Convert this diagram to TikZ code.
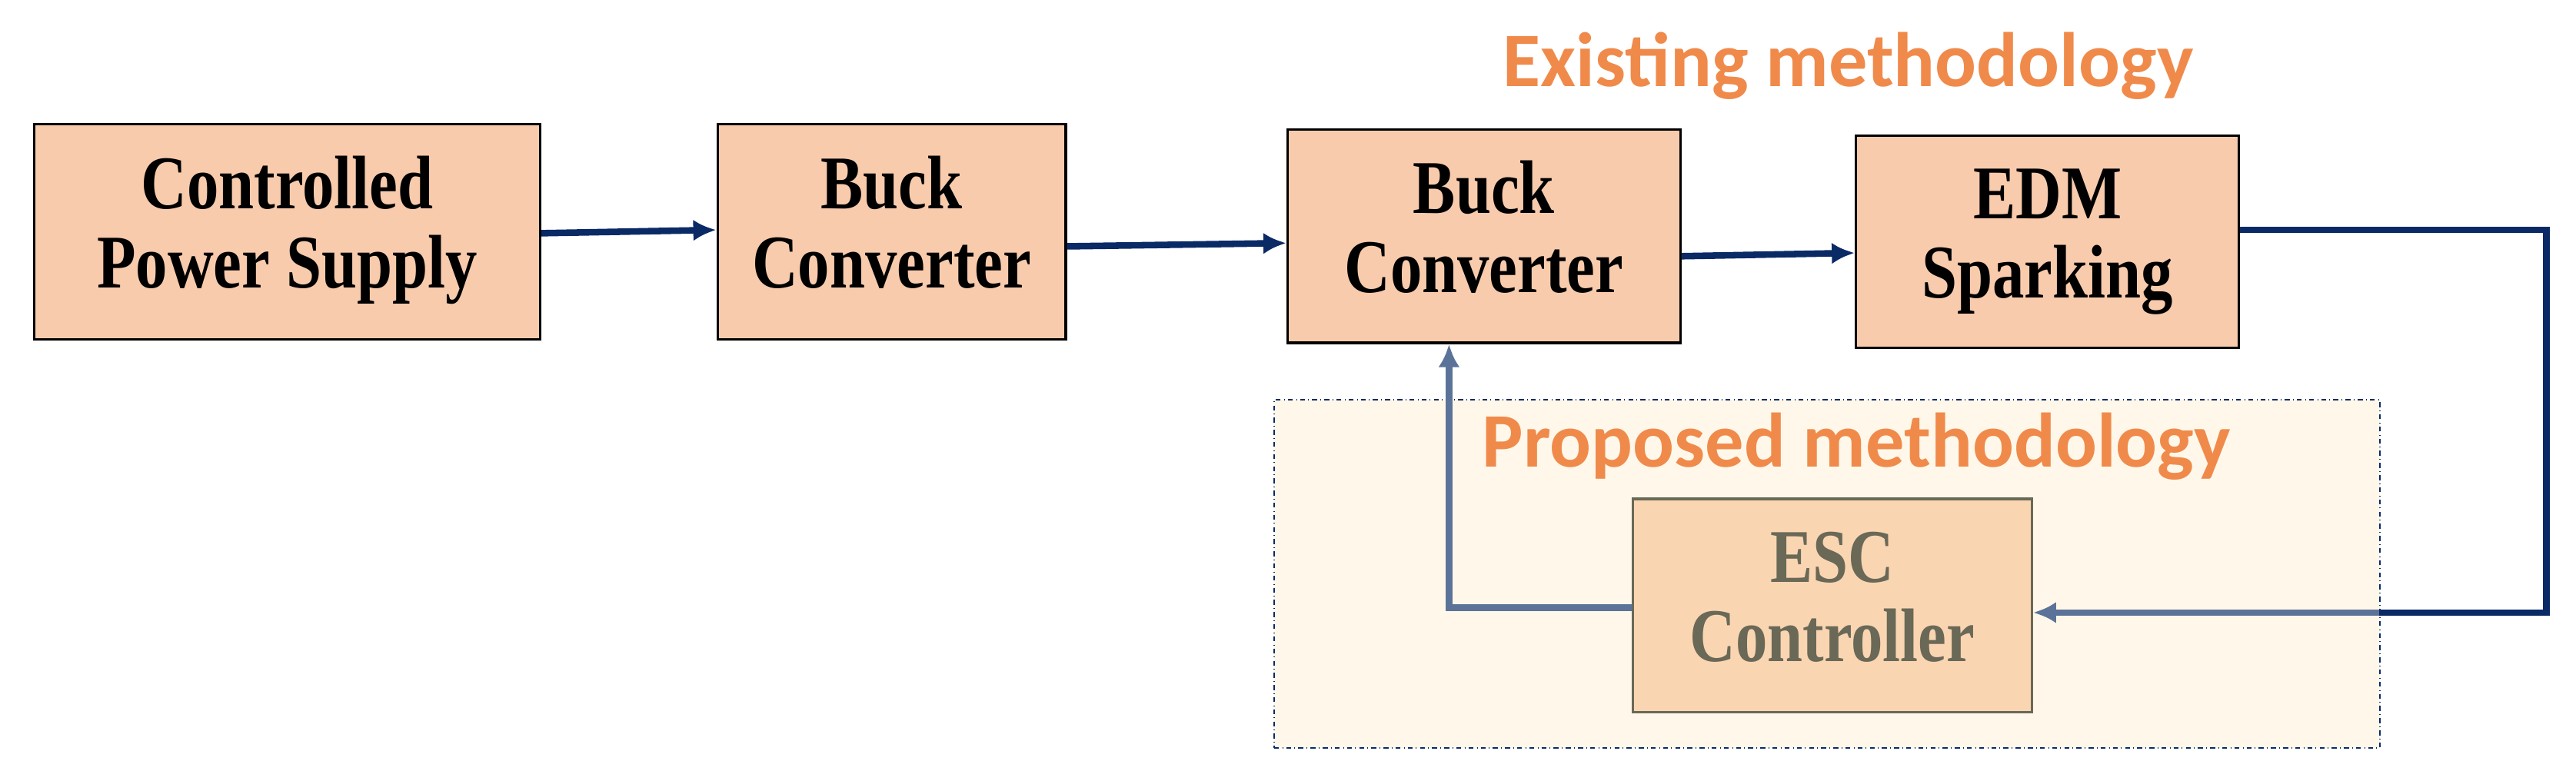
\documentclass[tikz,border=0pt]{standalone}
\usepackage{fontspec}
\setmainfont{Liberation Serif}
\newfontfamily\lbl{Carlito}
\usetikzlibrary{arrows.meta}
\definecolor{boxf}{HTML}{F8CBAD}
\definecolor{escf}{HTML}{FAD5B2}
\definecolor{navy}{HTML}{0A2A66}
\definecolor{lnavy}{HTML}{5C7399}
\definecolor{regf}{HTML}{FFF8EA}
\definecolor{orng}{HTML}{F08A4B}
\definecolor{gr}{HTML}{6A6856}
\newcommand{\twol}[2]{\scalebox{0.88}[1.05]{\begin{tabular}{@{}c@{}}#1\\[-2pt]#2\end{tabular}}}
\begin{document}
\begin{tikzpicture}[x=1pt,y=-1pt,
  blk/.style={draw=black,line width=1.5pt,fill=boxf,align=center,font=\fontsize{44}{48}\selectfont\bfseries,inner sep=0pt},
  arr/.style={draw=navy,line width=4pt,-{Latex[length=14pt,width=13pt]}},
  larr/.style={draw=lnavy,line width=4pt,-{Latex[length=14pt,width=13pt]}},
  lab/.style={text=orng,font=\lbl\fontsize{47}{50}\selectfont\bfseries}]
\useasboundingbox (0,0) rectangle (1568,469);
\node[draw=navy,dash dot,line width=1pt,fill=regf,minimum width=673pt,minimum height=212pt,anchor=north west] (reg) at (775,243) {};
\node[blk,minimum width=308pt,minimum height=131pt,anchor=north west] (b1) at (20,75) {\twol{Controlled}{Power Supply}};
\node[blk,minimum width=212pt,minimum height=131pt,anchor=north west] (b2) at (436,75) {\twol{Buck}{Converter}};
\node[blk,minimum width=239pt,minimum height=130pt,anchor=north west] (b3) at (783,78) {\twol{Buck}{Converter}};
\node[blk,minimum width=233pt,minimum height=129pt,anchor=north west] (b4) at (1129,82) {\twol{EDM}{Sparking}};
\node[blk,draw=gr,fill=escf,text=gr,minimum width=243pt,minimum height=130pt,anchor=north west] (esc) at (993,303) {\twol{ESC}{Controller}};
\node[lab] (ex) at (1125,40) {Existing methodology};
\node[lab] (pr) at (1130,272) {Proposed methodology};
\coordinate (c1) at (1550,140);
\coordinate (c2) at (1550,373);
\coordinate (c3) at (1448,373);
\coordinate (c4) at (882,370);
\draw[arr] (b1.east |- 0,142) -- (b2.west |- 0,140);
\draw[arr] (b2.east |- 0,150) -- (b3.west |- 0,148);
\draw[arr] (b3.east |- 0,156) -- (b4.west |- 0,154);
\draw[navy,line width=4pt] (b4.east |- c1) -- (c1) -- (c2) -- (c3);
\draw[larr] (c3) -- (esc.east |- c3);
\draw[larr] (esc.west |- c4) -- (c4) -- (b3.south -| c4);
\end{tikzpicture}
\end{document}
